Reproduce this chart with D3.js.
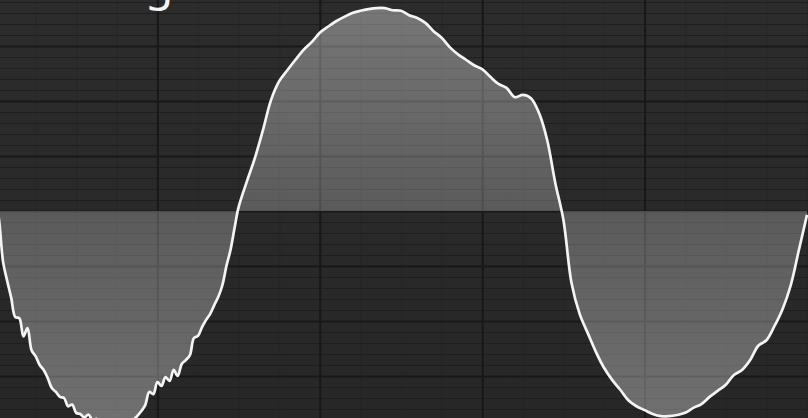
<!DOCTYPE html>
<html><head><meta charset="utf-8">
<script src="https://cdn.jsdelivr.net/npm/d3@7"></script>
<style>html,body{margin:0;padding:0;background:#2a2a2a;overflow:hidden}svg{display:block}</style>
</head><body><svg id="c" width="808" height="418"></svg>
<script>
// ---- data (time in ms, voltage in V) ----
// sample times: 0.1 ms steps up to 6 ms, then 0.2 ms steps to 20 ms
const timeMs = d3.range(0, 61).map(i => i / 10).concat(d3.range(31, 101).map(i => i / 5));
const volts = [
  // 0.0 - 6.0 ms (0.1 ms steps)
  29, -16, -93, -127, -158, -193, -195, -228, -213, -253,
  -264, -280, -289, -304, -322, -329, -338, -340, -355, -352,
  -367, -369, -375, -370, -380, -378, -387, -391, -395, -398,
  -398, -396, -393, -387, -380, -373, -364, -353, -329, -333,
  -311, -318, -302, -309, -289, -300, -278, -271, -262, -231,
  -227, -211, -198, -187, -171, -156, -135, -100, -71, -31,
  7,
  // 6.2 - 20.0 ms (0.2 ms steps)
  53, 96, 147, 202, 236, 256, 275, 293, 307,
  324, 335, 345, 353, 360, 364, 367, 369, 369, 365,
  364, 356, 351, 342, 327, 315, 298, 285, 275, 265,
  258, 244, 231, 224, 207, 211, 205, 178, 129, 51,
  -16, -131, -187, -222, -256, -285, -307, -325, -344, -355,
  -362, -369, -373, -373, -371, -367, -358, -351, -338, -327,
  -316, -298, -289, -271, -245, -235, -209, -178, -135, -71,
  -7
];
const timeMinorTicks = d3.range(0, 21, 1);
const timeMajorTicks = [4, 8, 12, 16];
const voltMinorTicks = d3.range(-400, 401, 20);
const voltMajorTicks = d3.range(-400, 401, 100);
const titleText = "g";

const W = 808, H = 418;
const svg = d3.select("#c");
const x = d3.scaleLinear().domain([0, 20]).range([-5, 807]);
const y = d3.scaleLinear().domain([-400, 400]).range([431, -9]);

const defs = svg.append("defs");
const bg = defs.append("linearGradient").attr("id", "bg").attr("x1", 0).attr("y1", 0).attr("x2", 0).attr("y2", 1);
bg.append("stop").attr("offset", 0).attr("stop-color", "#2c2c2c");
bg.append("stop").attr("offset", 1).attr("stop-color", "#272727");

const fg = defs.append("linearGradient").attr("id", "fillg").attr("gradientUnits", "userSpaceOnUse")
  .attr("x1", 0).attr("y1", 0).attr("x2", 0).attr("y2", H);
[[0, 0.36], [y(0) / H, 0.23], [1, 0.34]].forEach(([o, a]) =>
  fg.append("stop").attr("offset", o).attr("stop-color", "#ffffff").attr("stop-opacity", a));

svg.append("rect").attr("width", W).attr("height", H).attr("fill", "url(#bg)");

// grid via axes
const gMinorX = svg.append("g").attr("transform", `translate(0,${H})`)
  .call(d3.axisBottom(x).tickValues(timeMinorTicks).tickSize(-H).tickFormat(""));
gMinorX.selectAll("line").attr("stroke", "#222").attr("stroke-width", 1).attr("opacity", 0.4);
const gMinorY = svg.append("g")
  .call(d3.axisRight(y).tickValues(voltMinorTicks).tickSize(W).tickFormat(""));
gMinorY.selectAll("line").attr("stroke", "#1e1e1e").attr("stroke-width", 1.2);
const gMajorX = svg.append("g").attr("transform", `translate(0,${H})`)
  .call(d3.axisBottom(x).tickValues(timeMajorTicks).tickSize(-H).tickFormat(""));
gMajorX.selectAll("line").attr("stroke", "#181818").attr("stroke-width", 2);
const gMajorY = svg.append("g")
  .call(d3.axisRight(y).tickValues(voltMajorTicks).tickSize(W).tickFormat(""));
gMajorY.selectAll("line").attr("stroke", "#181818").attr("stroke-width", 2);
svg.selectAll(".domain").remove();

const data = timeMs.map((t, i) => ({ t, v: volts[i] }));
const curve = d3.curveCatmullRom.alpha(0.5);

svg.append("path").datum(data)
  .attr("d", d3.area().x(d => x(d.t)).y0(y(0)).y1(d => y(d.v)).curve(curve))
  .attr("fill", "url(#fillg)");

svg.append("path").datum(data)
  .attr("d", d3.line().x(d => x(d.t)).y(d => y(d.v)).curve(curve))
  .attr("fill", "none").attr("stroke", "#f4f4f4").attr("stroke-width", 2.7)
  .attr("stroke-linejoin", "round");

svg.append("text").attr("x", 145).attr("y", 0)
  .attr("font-family", "Noto Sans, sans-serif").attr("font-size", 46)
  .attr("fill", "#f4f4f4").text(titleText);
</script></body></html>
